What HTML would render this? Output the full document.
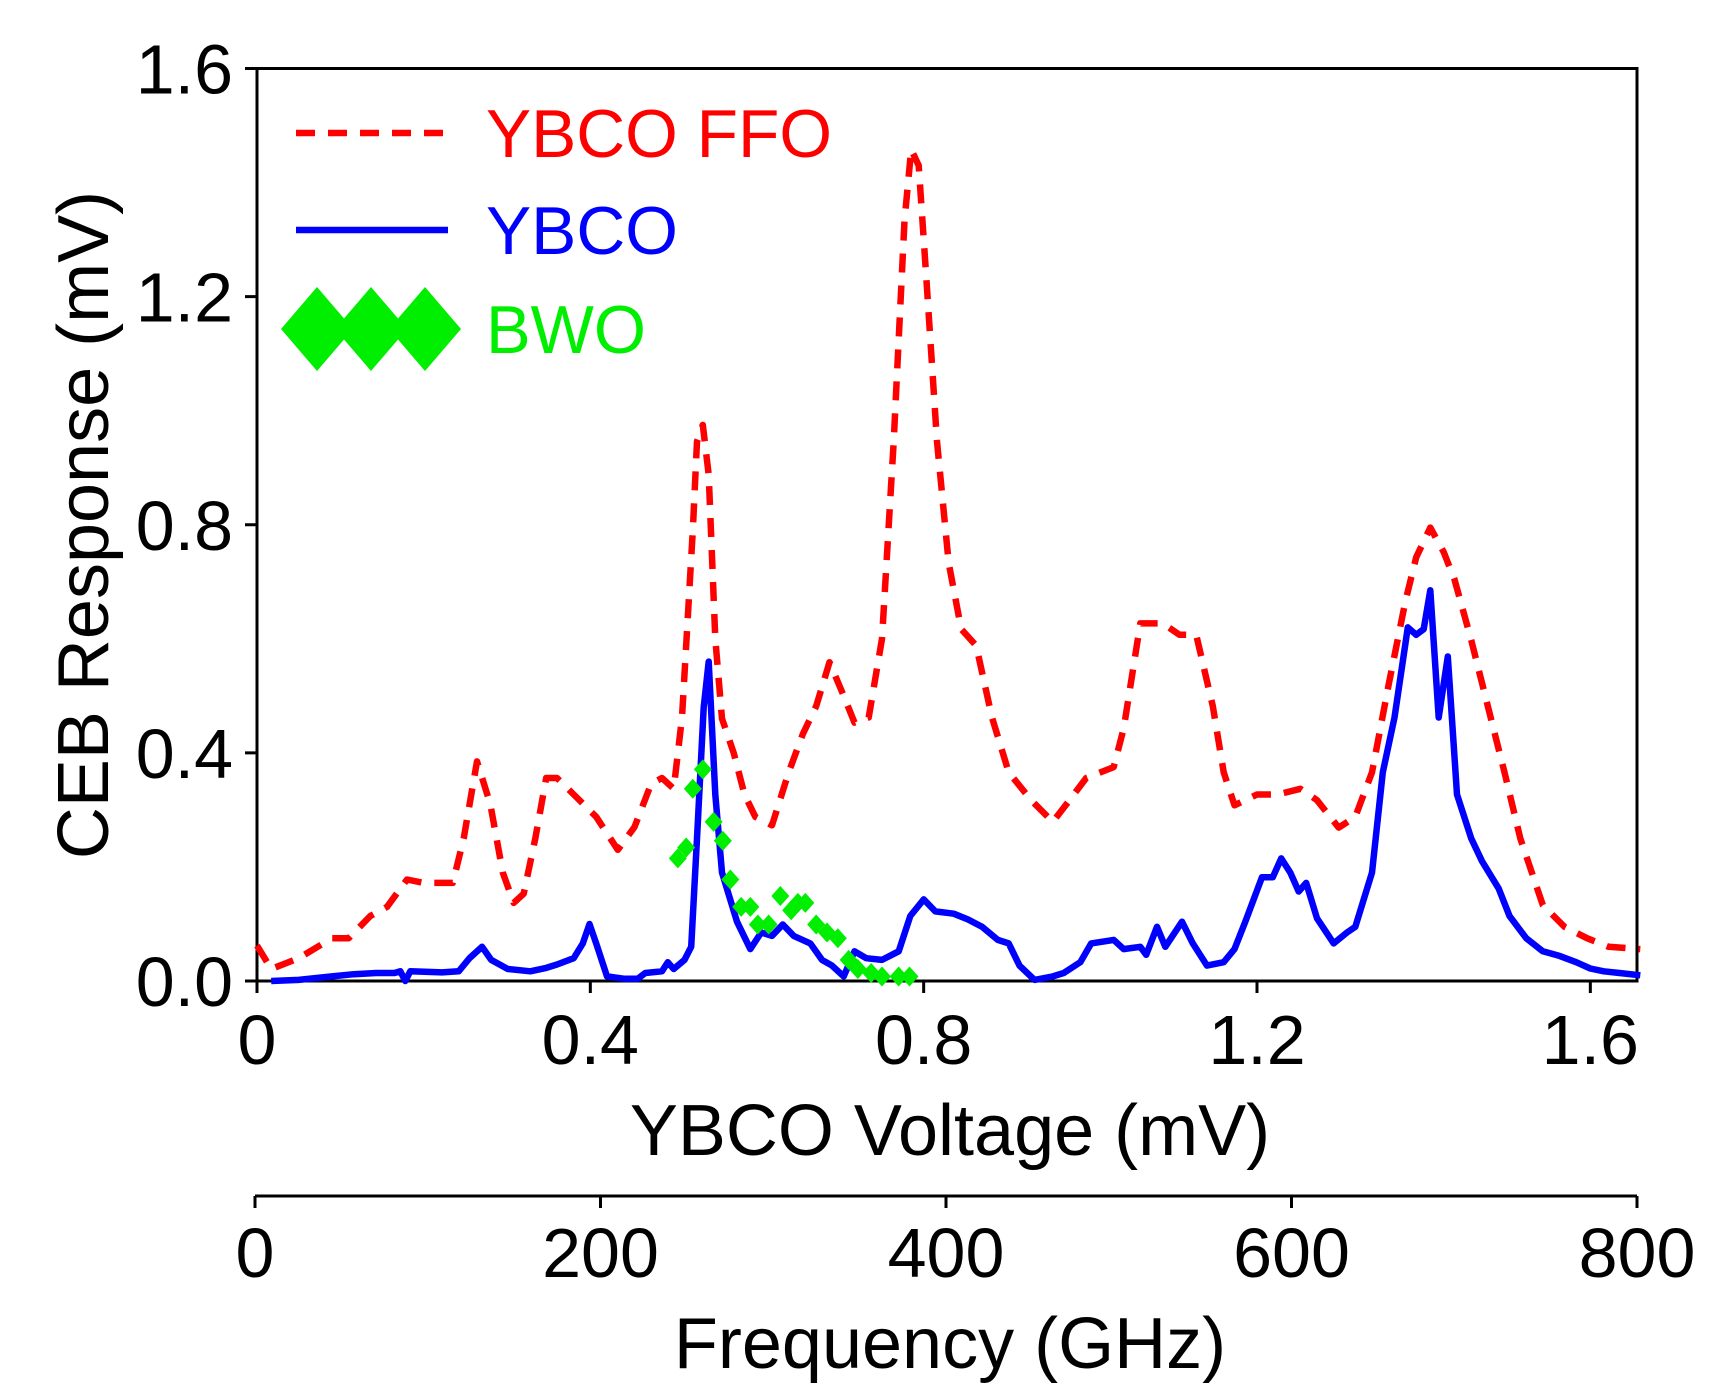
<!DOCTYPE html>
<html><head><meta charset="utf-8">
<style>
html,body{margin:0;padding:0;background:#fff;}
svg{display:block;font-family:"Liberation Sans",sans-serif;}
</style></head>
<body>
<svg id="chart" width="1729" height="1400" viewBox="0 0 1729 1400">
<g id="grid-layer"></g>
<g id="series-layer"></g>
<g id="legend">
  <line x1="296" y1="133" x2="448" y2="133" stroke="#ff0000" stroke-width="6.5" stroke-dasharray="19,13"/>
  <text x="486" y="157" font-size="68" fill="#ff0000" textLength="346" lengthAdjust="spacingAndGlyphs">YBCO FFO</text>
  <line x1="296" y1="230" x2="448" y2="230" stroke="#0000ff" stroke-width="6.5"/>
  <text x="486" y="254" font-size="68" fill="#0000ff" textLength="192" lengthAdjust="spacingAndGlyphs">YBCO</text>
  <polygon points="281,329 317,287 353,329 317,371" fill="#00ee00"/>
  <polygon points="335,329 371,287 407,329 371,371" fill="#00ee00"/>
  <polygon points="389,329 425,287 461,329 425,371" fill="#00ee00"/>
  <text x="486" y="353" font-size="68" fill="#00ee00" textLength="160" lengthAdjust="spacingAndGlyphs">BWO</text>
</g>
<text x="950" y="1155" font-size="72" text-anchor="middle" fill="#000">YBCO Voltage (mV)</text>
<text x="950" y="1368" font-size="72" text-anchor="middle" fill="#000">Frequency (GHz)</text>
<text transform="translate(108,525) rotate(-90)" font-size="72" text-anchor="middle" fill="#000">CEB Response (mV)</text>
<script>
var xTicks = [0, 0.4, 0.8, 1.2, 1.6];
var xTickLabels = ["0", "0.4", "0.8", "1.2", "1.6"];
var yTicks = [0, 0.4, 0.8, 1.2, 1.6];
var yTickLabels = ["0.0", "0.4", "0.8", "1.2", "1.6"];
var fTicks = [0, 200, 400, 600, 800];
var fTickLabels = ["0", "200", "400", "600", "800"];
var ffoX = [0,0.017,0.05,0.09,0.11,0.136,0.156,0.18,0.2,0.235,0.248,0.264,0.28,0.295,0.308,0.32,0.334,0.347,0.36,0.38,0.407,0.433,0.453,0.473,0.486,0.5,0.51,0.523,0.528,0.535,0.542,0.55,0.558,0.572,0.585,0.598,0.618,0.638,0.655,0.671,0.687,0.704,0.717,0.734,0.75,0.764,0.777,0.785,0.794,0.803,0.816,0.83,0.845,0.863,0.882,0.902,0.929,0.955,0.975,0.995,1.028,1.04,1.06,1.087,1.107,1.127,1.147,1.16,1.173,1.2,1.225,1.252,1.272,1.298,1.318,1.338,1.358,1.378,1.391,1.408,1.424,1.437,1.457,1.477,1.497,1.516,1.543,1.569,1.596,1.622,1.66];
var ffoY = [0.062,0.021,0.04,0.075,0.075,0.114,0.13,0.178,0.172,0.172,0.25,0.385,0.31,0.19,0.137,0.153,0.25,0.356,0.356,0.327,0.288,0.23,0.27,0.346,0.356,0.337,0.462,0.79,0.946,0.975,0.888,0.6,0.46,0.4,0.327,0.288,0.273,0.366,0.433,0.482,0.559,0.5,0.453,0.462,0.6,0.946,1.333,1.458,1.43,1.236,0.946,0.733,0.617,0.588,0.462,0.366,0.317,0.279,0.317,0.356,0.375,0.443,0.627,0.627,0.607,0.607,0.482,0.366,0.308,0.327,0.327,0.337,0.317,0.269,0.288,0.366,0.52,0.665,0.743,0.795,0.752,0.704,0.598,0.482,0.366,0.25,0.133,0.095,0.075,0.06,0.056];
var ybcoX = [0.017,0.05,0.09,0.116,0.143,0.165,0.172,0.178,0.184,0.222,0.242,0.255,0.27,0.281,0.301,0.328,0.347,0.36,0.38,0.391,0.399,0.407,0.42,0.44,0.457,0.466,0.486,0.493,0.5,0.513,0.521,0.528,0.536,0.542,0.55,0.558,0.576,0.592,0.605,0.618,0.631,0.644,0.664,0.678,0.69,0.704,0.717,0.731,0.75,0.77,0.784,0.8,0.814,0.836,0.853,0.87,0.889,0.902,0.915,0.933,0.955,0.968,0.988,1.001,1.028,1.04,1.06,1.067,1.08,1.09,1.11,1.123,1.14,1.16,1.173,1.186,1.206,1.219,1.229,1.24,1.25,1.259,1.272,1.292,1.308,1.318,1.338,1.351,1.365,1.381,1.391,1.4,1.408,1.418,1.429,1.44,1.457,1.47,1.49,1.503,1.523,1.543,1.563,1.583,1.6,1.616,1.635,1.66];
var ybcoY = [0,0.002,0.008,0.012,0.014,0.014,0.017,0,0.017,0.015,0.017,0.04,0.06,0.037,0.021,0.017,0.023,0.029,0.04,0.066,0.1,0.066,0.008,0.004,0.004,0.014,0.017,0.033,0.021,0.037,0.06,0.25,0.48,0.56,0.327,0.19,0.104,0.056,0.085,0.079,0.099,0.079,0.066,0.037,0.027,0.008,0.052,0.04,0.037,0.052,0.114,0.143,0.122,0.118,0.108,0.095,0.072,0.066,0.027,0.002,0.008,0.014,0.033,0.066,0.072,0.056,0.06,0.046,0.095,0.06,0.104,0.066,0.027,0.033,0.056,0.104,0.182,0.182,0.215,0.19,0.157,0.172,0.11,0.066,0.085,0.095,0.19,0.366,0.462,0.62,0.607,0.617,0.685,0.462,0.569,0.327,0.25,0.21,0.162,0.114,0.075,0.052,0.044,0.033,0.022,0.017,0.014,0.01];
var bwoX = [0.505,0.515,0.523,0.535,0.548,0.559,0.568,0.581,0.592,0.601,0.614,0.628,0.641,0.649,0.658,0.671,0.684,0.697,0.71,0.721,0.737,0.75,0.77,0.783];
var bwoY = [0.215,0.234,0.337,0.371,0.279,0.246,0.178,0.13,0.13,0.099,0.099,0.149,0.124,0.137,0.137,0.099,0.085,0.075,0.037,0.021,0.014,0.008,0.008,0.008];

var X0 = 257, XR = 1637, XMAX = 1.656, Y0 = 981, YT = 68.5, YMAX = 1.6;
var FY = 1196;
function sx(v){ return X0 + v * (XR - X0) / XMAX; }
function sy(v){ return Y0 - v * (Y0 - YT) / YMAX; }
function fx(v){ return X0 - 2 + v * (XR - X0 + 2) / 800; }
var NS = "http://www.w3.org/2000/svg";
var ax = document.getElementById('grid-layer');
var ser = document.getElementById('series-layer');
function mk(tag, attrs, parent){
  var e = document.createElementNS(NS, tag);
  for (var k in attrs) e.setAttribute(k, attrs[k]);
  parent.appendChild(e);
  return e;
}
var frame = mk('rect', {x: X0, y: YT, width: XR - X0, height: Y0 - YT, fill: 'none', stroke: '#000', 'stroke-width': 3}, ax);


xTicks.forEach(function(v, i){
  var t = mk('line', {x1: sx(v), x2: sx(v), y1: Y0, y2: Y0 + 12, stroke: '#000', 'stroke-width': 3}, ax);
  
  
  var l = mk('text', {x: sx(v), y: 1064, 'font-size': 70, 'text-anchor': 'middle', fill: '#000'}, ax);
  l.textContent = xTickLabels[i];
  
  
});
yTicks.forEach(function(v, i){
  var t = mk('line', {x1: X0 - 12, x2: X0, y1: sy(v), y2: sy(v), stroke: '#000', 'stroke-width': 3}, ax);
  
  
  var l = mk('text', {x: 233, y: sy(v) + 25, 'font-size': 70, 'text-anchor': 'end', fill: '#000'}, ax);
  l.textContent = yTickLabels[i];
  
  
});
var fl = mk('line', {x1: fx(0), x2: fx(800), y1: FY, y2: FY, stroke: '#000', 'stroke-width': 3}, ax);


fTicks.forEach(function(v, i){
  var t = mk('line', {x1: fx(v), x2: fx(v), y1: FY, y2: FY + 12, stroke: '#000', 'stroke-width': 3}, ax);
  
  
  var l = mk('text', {x: fx(v), y: 1277, 'font-size': 70, 'text-anchor': 'middle', fill: '#000'}, ax);
  l.textContent = fTickLabels[i];
  
  
});
function pts(xs, ys){ return xs.map(function(x, i){ return sx(x).toFixed(1) + ',' + sy(ys[i]).toFixed(1); }).join(' '); }
var ffo = mk('polyline', {points: pts(ffoX, ffoY), fill: 'none', stroke: '#ff0000', 'stroke-width': 6.5, 'stroke-dasharray': '19,13', 'stroke-linejoin': 'round'}, ser);


var yb = mk('polyline', {points: pts(ybcoX, ybcoY), fill: 'none', stroke: '#0000ff', 'stroke-width': 6.5, 'stroke-linejoin': 'round'}, ser);


bwoX.forEach(function(x, i){
  var cx = sx(x), cy = sy(bwoY[i]), w = 9, h = 10;
  var d = mk('polygon', {points: (cx - w) + ',' + cy + ' ' + cx + ',' + (cy - h) + ' ' + (cx + w) + ',' + cy + ' ' + cx + ',' + (cy + h), fill: '#00ee00'}, ser);
  
  
});
</script>
</svg>
</body></html>
